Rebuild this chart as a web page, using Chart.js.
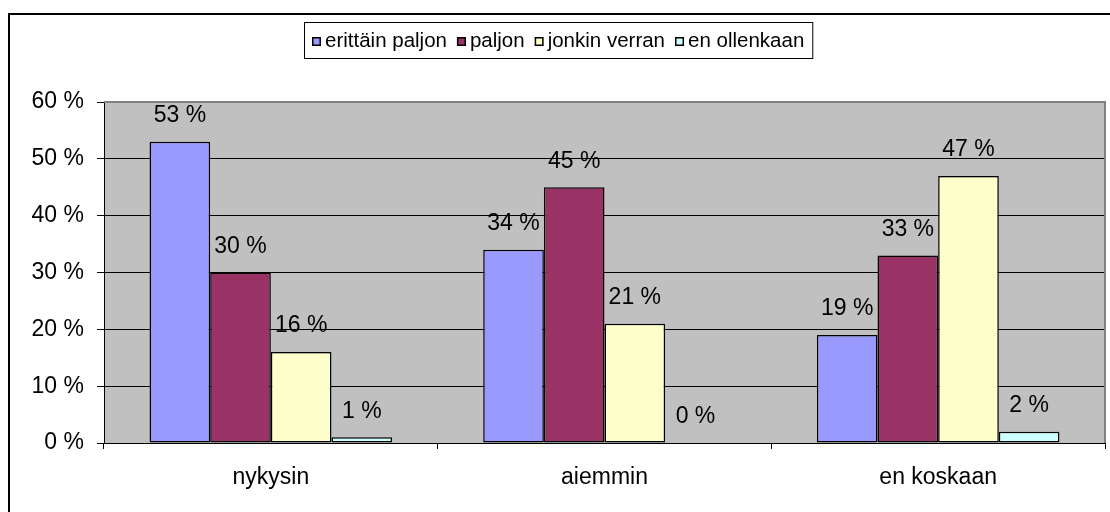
<!DOCTYPE html>
<html>
    <head>
        <script src="https://cdn.jsdelivr.net/npm/chart.js@4"></script>
        <style>
            html, body { margin: 0; padding: 0; background: #ffffff; }
            #wrap { width: 1110px; height: 512px; position: relative; }
        </style>
    </head>
    <body>
        <div id="wrap"><canvas id="myChart"></canvas></div>
    </body>
    <script type="text/javascript">
        var categories = ['nykysin', 'aiemmin', 'en koskaan'];
        var seriesNames = ['erittäin paljon', 'paljon', 'jonkin verran', 'en ollenkaan'];
        var erittainPaljon = [53, 34, 19];
        var paljon = [30, 45, 33];
        var jonkinVerran = [16, 21, 47];
        var enOllenkaan = [1, 0, 2];
        var yTicks = [0, 10, 20, 30, 40, 50, 60];

        var colours = ['#9999FF', '#993366', '#FFFFCC', '#CCFFFF'];
        var fontFamily = '"Liberation Sans", Arial, sans-serif';
        var axisFont = 23;
        var legendFont = 20.5;

        var allValues = [erittainPaljon, paljon, jonkinVerran, enOllenkaan];
        var dataSets = [];
        for (let i = 0; i < seriesNames.length; i++) {
            dataSets.push({
                label: seriesNames[i],
                data: allValues[i],
                backgroundColor: colours[i],
                borderColor: '#000000',
                borderWidth: 1.5,
                borderSkipped: false,
                categoryPercentage: 0.727,
                barPercentage: 1.0
            });
        }

        // gray plot area, frame, outer border, legend box and value labels
        var excelLook = {
            id: 'excelLook',
            beforeDraw: function(chart) {
                var c = chart.ctx, a = chart.chartArea;
                c.save();
                c.fillStyle = '#ffffff';
                c.fillRect(0, 0, chart.width, chart.height);
                c.fillStyle = '#C0C0C0';
                c.fillRect(a.left, a.top, a.right - a.left, a.bottom - a.top);
                c.restore();
            },
            afterDatasetsDraw: function(chart) {
                var c = chart.ctx, a = chart.chartArea;
                c.save();
                c.strokeStyle = '#808080';
                c.lineWidth = 2;
                c.beginPath();
                c.moveTo(a.left, a.top);
                c.lineTo(a.right, a.top);
                c.lineTo(a.right, a.bottom);
                c.stroke();

                c.fillStyle = '#000000';
                c.font = axisFont + 'px ' + fontFamily;
                c.textAlign = 'center';
                c.textBaseline = 'middle';
                chart.data.datasets.forEach(function(ds, i) {
                    chart.getDatasetMeta(i).data.forEach(function(bar, j) {
                        c.fillText(ds.data[j] + ' %', bar.x, bar.y - 26);
                    });
                });

                // outer chart border (right and bottom edges fall outside the picture)
                c.strokeStyle = '#000000';
                c.lineWidth = 2;
                c.strokeRect(9, 14, 1200, 600);

                // legend
                c.font = legendFont + 'px ' + fontFamily;
                c.textAlign = 'left';
                var box = 9, gapIn = 4, gapOut = 10, pad = 8;
                var total = 0;
                seriesNames.forEach(function(n, i) {
                    total += box + gapIn + c.measureText(n).width;
                    if (i < seriesNames.length - 1) total += gapOut;
                });
                var lx = 304, ly = 22, lw = total + pad * 2, lh = 36;
                c.lineWidth = 1;
                c.strokeRect(lx + 0.5, ly + 0.5, lw, lh);
                var x = lx + pad, cy = ly + lh / 2 + 1;
                seriesNames.forEach(function(n, i) {
                    c.fillStyle = colours[i];
                    c.fillRect(x, cy - 4, box, box);
                    c.strokeStyle = '#000000';
                    c.lineWidth = 1.5;
                    c.strokeRect(x + 0.75, cy - 4 + 0.75, box - 1.5, box - 1.5);
                    c.fillStyle = '#000000';
                    x += box + gapIn;
                    c.fillText(n, x, cy);
                    x += c.measureText(n).width + gapOut;
                });
                c.restore();
            }
        };

        var ctx = document.getElementById('myChart').getContext('2d');
        var chart = new Chart(ctx, {
            type: 'bar',
            data: {
                labels: categories,
                datasets: dataSets
            },
            options: {
                responsive: true,
                maintainAspectRatio: false,
                animation: false,
                layout: {
                    padding: { top: 102, right: 5, left: 0, bottom: 0 }
                },
                plugins: {
                    legend: { display: false },
                    tooltip: { enabled: false }
                },
                scales: {
                    x: {
                        offset: true,
                        afterFit: function(scale) { scale.height = 69; },
                        grid: {
                            display: true,
                            offset: true,
                            drawOnChartArea: false,
                            drawTicks: true,
                            tickLength: 6,
                            color: '#000000'
                        },
                        border: { display: true, color: '#000000', width: 1 },
                        ticks: {
                            color: '#000000',
                            padding: 15,
                            maxRotation: 0,
                            font: { family: fontFamily, size: axisFont }
                        }
                    },
                    y: {
                        min: 0,
                        max: 60,
                        afterFit: function(scale) { scale.width = 104; },
                        afterBuildTicks: function(scale) {
                            scale.ticks = yTicks.map(function(v) { return { value: v }; });
                        },
                        grid: {
                            color: '#000000',
                            drawTicks: true,
                            tickLength: 7
                        },
                        border: { display: true, color: '#000000', width: 1 },
                        ticks: {
                            color: '#000000',
                            padding: 13,
                            font: { family: fontFamily, size: axisFont },
                            callback: function(v) { return v + ' %'; }
                        }
                    }
                }
            },
            plugins: [excelLook]
        });
    </script>
</html>
